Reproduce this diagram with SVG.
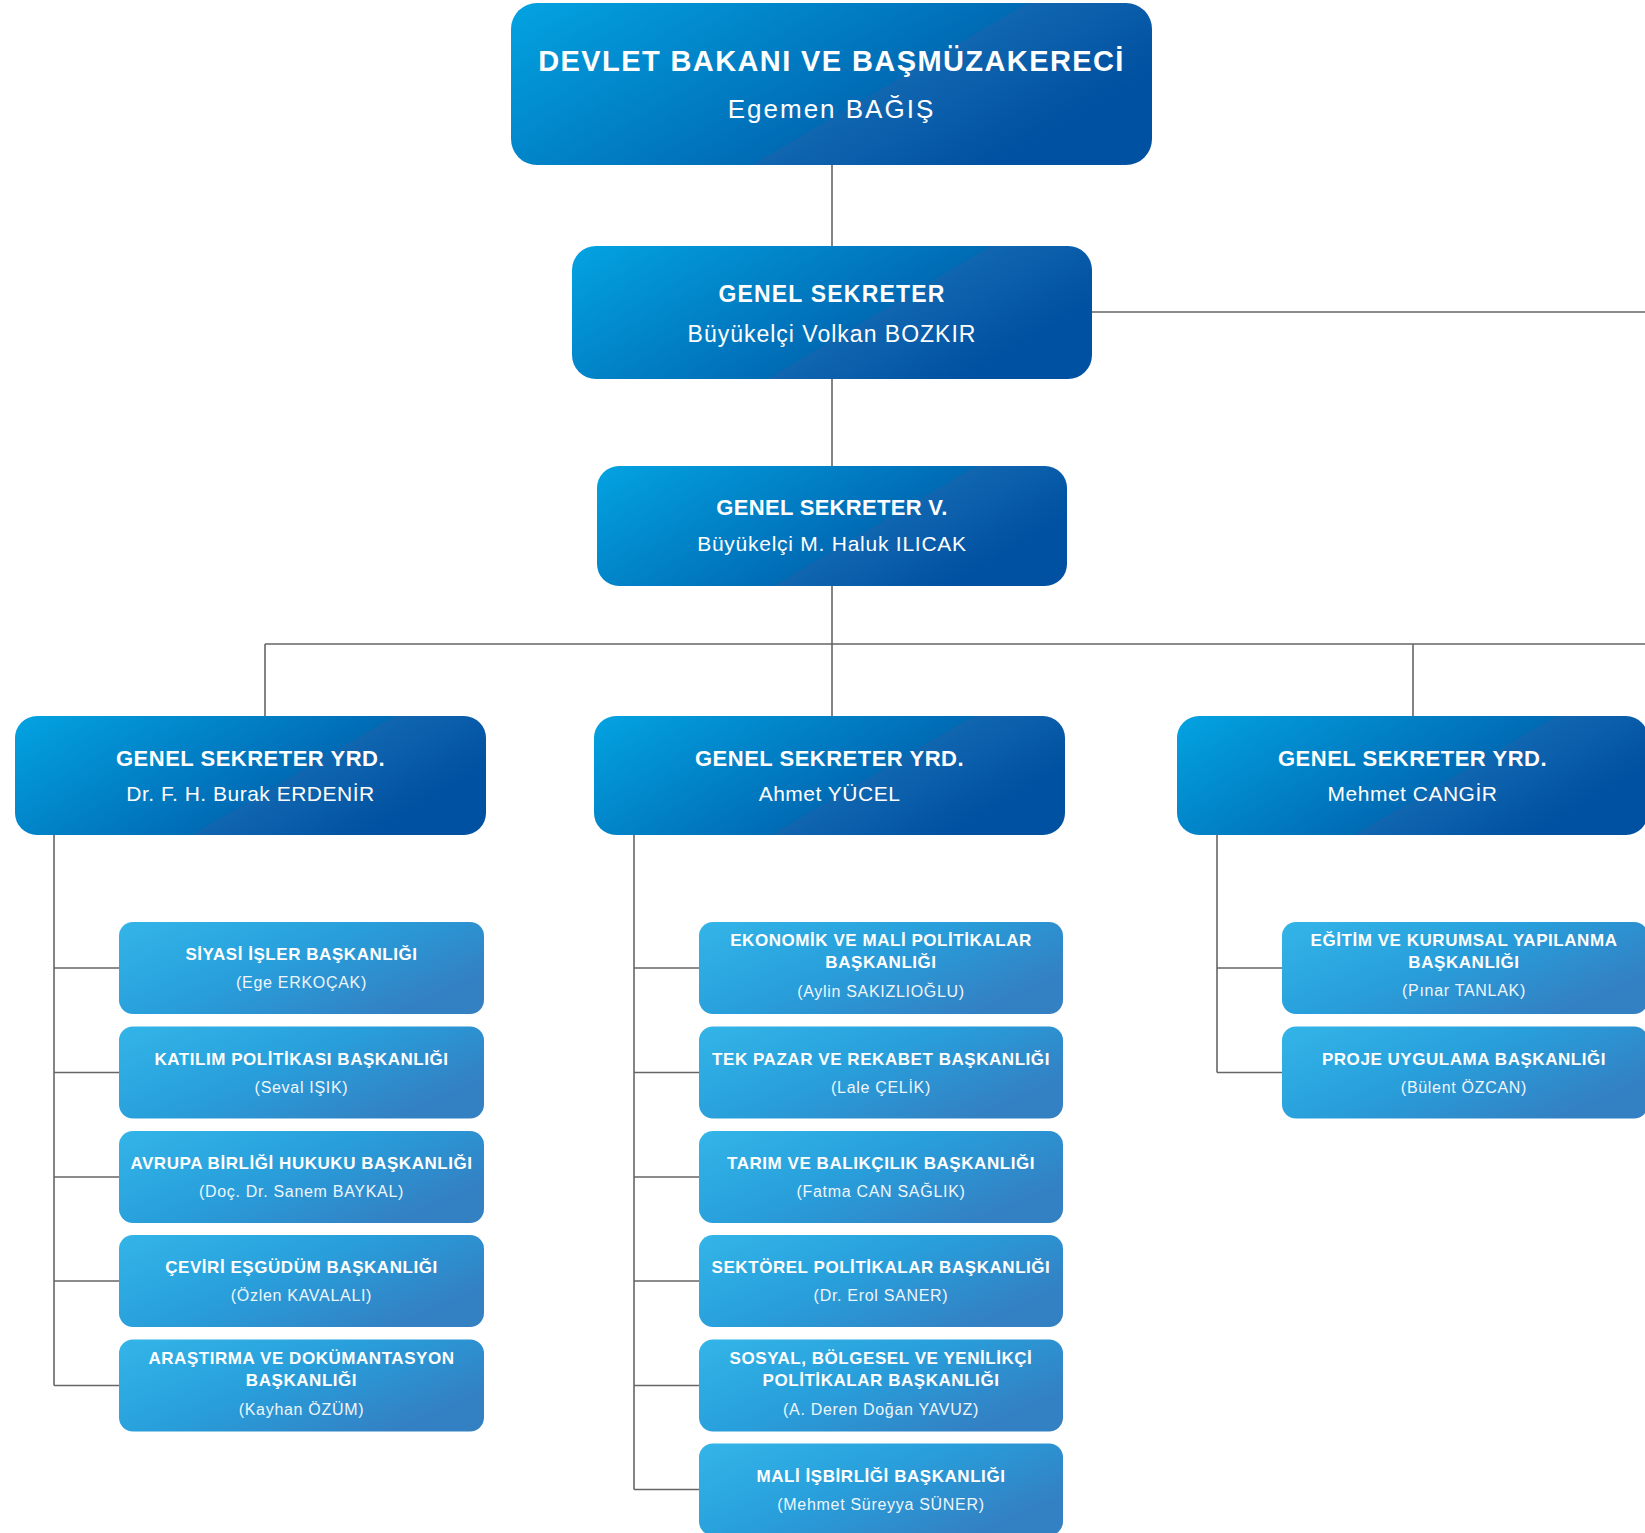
<svg xmlns="http://www.w3.org/2000/svg" width="1645" height="1533" viewBox="0 0 1645 1533">
<defs>
<linearGradient id="gDark" x1="0" y1="0" x2="1" y2="0.43">
<stop offset="0" stop-color="#03a3e1"/>
<stop offset="0.68" stop-color="#006bb5"/>
<stop offset="0.68" stop-color="#1166b0"/>
<stop offset="1" stop-color="#0051a1"/>
</linearGradient>
<linearGradient id="gLight" x1="0" y1="0" x2="1" y2="0.6">
<stop offset="0" stop-color="#33b5e8"/>
<stop offset="0.5" stop-color="#289fdb"/>
<stop offset="1" stop-color="#3380c3"/>
</linearGradient>
<style>
.dk{fill:url(#gDark)}
.lt{fill:url(#gLight)}
text{fill:#ffffff;text-anchor:middle;font-family:"Liberation Sans",Arial,sans-serif}
.top{font-size:29px;font-weight:bold;letter-spacing:1.4px}
.topn{font-size:26px;letter-spacing:2px}
.gs{font-size:23px;font-weight:bold;letter-spacing:1.2px}
.gsn{font-size:23px;letter-spacing:1px}
.gsv{font-size:22px;font-weight:bold;letter-spacing:0.3px}
.gsvn{font-size:21px;letter-spacing:0.75px}
.yt{font-size:22px;font-weight:bold;letter-spacing:0.5px}
.yn{font-size:21px;letter-spacing:0.5px}
.st{font-size:17px;font-weight:bold;letter-spacing:0.55px}
.sn{font-size:16px;letter-spacing:0.7px;fill:#eef6fc}
.ln{fill:none;stroke:#666666;stroke-width:1.6}
</style>
</defs>
<g id="connectors">
<path class="ln" d="M832 165V246M832 379V466M832 586V716M1092 312H1645M265 644H1645M265 644V716M1413 644V716"/>
<path class="ln" d="M54 835V1385.5M54 968H119M54 1072.5H119M54 1177H119M54 1281H119M54 1385.5H119"/>
<path class="ln" d="M634 835V1489.5M634 968H699M634 1072.5H699M634 1177H699M634 1281H699M634 1385.5H699M634 1489.5H699"/>
<path class="ln" d="M1217 835V1072.5M1217 968H1282M1217 1072.5H1282"/>
</g>
<g id="devlet-bakani">
<rect class="dk" x="511" y="3" width="641" height="162" rx="26"/>
<text class="top" x="831.5" y="71">DEVLET BAKANI VE BAŞMÜZAKERECİ</text>
<text class="topn" x="831.5" y="118">Egemen BAĞIŞ</text>
</g>
<g id="genel-sekreter">
<rect class="dk" x="572" y="246" width="520" height="133" rx="24"/>
<text class="gs" x="832" y="302">GENEL SEKRETER</text>
<text class="gsn" x="832" y="342">Büyükelçi Volkan BOZKIR</text>
</g>
<g id="genel-sekreter-v">
<rect class="dk" x="597" y="466" width="470" height="120" rx="22"/>
<text class="gsv" x="832" y="515">GENEL SEKRETER V.</text>
<text class="gsvn" x="832" y="551">Büyükelçi M. Haluk ILICAK</text>
</g>
<g id="gsy-erdenir">
<rect class="dk" x="15" y="716" width="471" height="119" rx="22"/>
<text class="yt" x="250.5" y="766">GENEL SEKRETER YRD.</text>
<text class="yn" x="250.5" y="801">Dr. F. H. Burak ERDENİR</text>
</g>
<g id="gsy-yucel">
<rect class="dk" x="594" y="716" width="471" height="119" rx="22"/>
<text class="yt" x="829.5" y="766">GENEL SEKRETER YRD.</text>
<text class="yn" x="829.5" y="801">Ahmet YÜCEL</text>
</g>
<g id="gsy-cangir">
<rect class="dk" x="1177" y="716" width="471" height="119" rx="22"/>
<text class="yt" x="1412.5" y="766">GENEL SEKRETER YRD.</text>
<text class="yn" x="1412.5" y="801">Mehmet CANGİR</text>
</g>
<g id="siyasi-isler">
<rect class="lt" x="119" y="922" width="365" height="92" rx="14"/>
<text class="st" x="301.5" y="960">SİYASİ İŞLER BAŞKANLIĞI</text>
<text class="sn" x="301.5" y="988">(Ege ERKOÇAK)</text>
</g>
<g id="katilim">
<rect class="lt" x="119" y="1026.5" width="365" height="92" rx="14"/>
<text class="st" x="301.5" y="1064.5">KATILIM POLİTİKASI BAŞKANLIĞI</text>
<text class="sn" x="301.5" y="1092.5">(Seval IŞIK)</text>
</g>
<g id="ab-hukuku">
<rect class="lt" x="119" y="1131" width="365" height="92" rx="14"/>
<text class="st" x="301.5" y="1169">AVRUPA BİRLİĞİ HUKUKU BAŞKANLIĞI</text>
<text class="sn" x="301.5" y="1197">(Doç. Dr. Sanem BAYKAL)</text>
</g>
<g id="ceviri">
<rect class="lt" x="119" y="1235" width="365" height="92" rx="14"/>
<text class="st" x="301.5" y="1273">ÇEVİRİ EŞGÜDÜM BAŞKANLIĞI</text>
<text class="sn" x="301.5" y="1301">(Özlen KAVALALI)</text>
</g>
<g id="arastirma">
<rect class="lt" x="119" y="1339.5" width="365" height="92" rx="14"/>
<text class="st" x="301.5" y="1363.5">ARAŞTIRMA VE DOKÜMANTASYON</text>
<text class="st" x="301.5" y="1385.5">BAŞKANLIĞI</text>
<text class="sn" x="301.5" y="1414.5">(Kayhan ÖZÜM)</text>
</g>
<g id="ekonomik">
<rect class="lt" x="699" y="922" width="364" height="92" rx="14"/>
<text class="st" x="881" y="946">EKONOMİK VE MALİ POLİTİKALAR</text>
<text class="st" x="881" y="968">BAŞKANLIĞI</text>
<text class="sn" x="881" y="997">(Aylin SAKIZLIOĞLU)</text>
</g>
<g id="tek-pazar">
<rect class="lt" x="699" y="1026.5" width="364" height="92" rx="14"/>
<text class="st" x="881" y="1064.5">TEK PAZAR VE REKABET BAŞKANLIĞI</text>
<text class="sn" x="881" y="1092.5">(Lale ÇELİK)</text>
</g>
<g id="tarim">
<rect class="lt" x="699" y="1131" width="364" height="92" rx="14"/>
<text class="st" x="881" y="1169">TARIM VE BALIKÇILIK BAŞKANLIĞI</text>
<text class="sn" x="881" y="1197">(Fatma CAN SAĞLIK)</text>
</g>
<g id="sektorel">
<rect class="lt" x="699" y="1235" width="364" height="92" rx="14"/>
<text class="st" x="881" y="1273">SEKTÖREL POLİTİKALAR BAŞKANLIĞI</text>
<text class="sn" x="881" y="1301">(Dr. Erol SANER)</text>
</g>
<g id="sosyal">
<rect class="lt" x="699" y="1339.5" width="364" height="92" rx="14"/>
<text class="st" x="881" y="1363.5">SOSYAL, BÖLGESEL VE YENİLİKÇİ</text>
<text class="st" x="881" y="1385.5">POLİTİKALAR BAŞKANLIĞI</text>
<text class="sn" x="881" y="1414.5">(A. Deren Doğan YAVUZ)</text>
</g>
<g id="mali-isbirligi">
<rect class="lt" x="699" y="1443.5" width="364" height="92" rx="14"/>
<text class="st" x="881" y="1481.5">MALİ İŞBİRLİĞİ BAŞKANLIĞI</text>
<text class="sn" x="881" y="1509.5">(Mehmet Süreyya SÜNER)</text>
</g>
<g id="egitim">
<rect class="lt" x="1282" y="922" width="366" height="92" rx="14"/>
<text class="st" x="1464" y="946">EĞİTİM VE KURUMSAL YAPILANMA</text>
<text class="st" x="1464" y="968">BAŞKANLIĞI</text>
<text class="sn" x="1464" y="996">(Pınar TANLAK)</text>
</g>
<g id="proje">
<rect class="lt" x="1282" y="1026.5" width="366" height="92" rx="14"/>
<text class="st" x="1464" y="1064.5">PROJE UYGULAMA BAŞKANLIĞI</text>
<text class="sn" x="1464" y="1092.5">(Bülent ÖZCAN)</text>
</g>
</svg>
